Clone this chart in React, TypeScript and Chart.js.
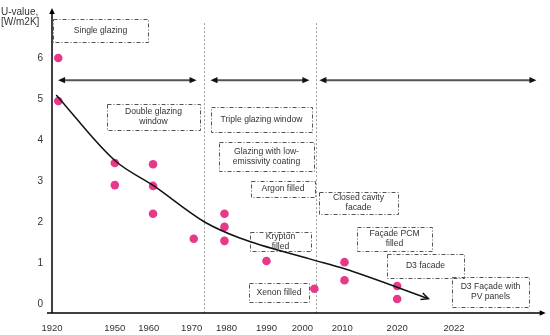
import { useEffect, useRef } from 'react';
import { Chart, registerables } from 'chart.js';
Chart.register(...registerables);

// x-axis (non-uniform timeline)
const tickYears = [1920, 1950, 1960, 1970, 1980, 1990, 2000, 2010, 2020, 2022];
const tickLabels = tickYears.map(String);
const tickPos = [0, 1.615, 2.487, 3.59, 4.487, 5.513, 6.436, 7.462, 8.872, 10.333];
const xAxisEnd = 12.69;
const yTicks = [0, 1, 2, 3, 4, 5, 6];

// measured U-values
const pointYears = [1923, 1923, 1950, 1950, 1961, 1961, 1961, 1970.6, 1979.4, 1979.4, 1979.4, 1990, 2003, 2010.4, 2010.4, 2020, 2020];
const pointValues = [6.0, 4.95, 3.44, 2.9, 3.41, 2.88, 2.2, 1.59, 2.2, 1.88, 1.54, 1.05, 0.37, 1.02, 0.58, 0.44, 0.12];

// trend curve
const trendYears = [1922, 1950, 1961.2, 1973.7, 1983.3, 2001.8, 2010.4, 2021.1];
const trendValues = [5.1, 3.5, 2.88, 2.0, 1.61, 1.1, 0.86, 0.13];

// eras
const eraBreakYears = [1973.4, 2003.3];
const eraArrowStart = [1922.9, 1975.4, 2004.25];
const eraArrowEnd = [1971.4, 2001.75, 2024.9];
const eraArrowLevel = 5.46;
const eraLineTop = 6.85;

const yTitle = ['U-value,', '[W/m2K]'];

const boxes = [
  { lines: ['Single glazing'], x1: 53, y1: 19, x2: 148, y2: 42 },
  { lines: ['Double glazing', 'window'], x1: 107, y1: 104, x2: 200, y2: 130 },
  { lines: ['Triple glazing window'], x1: 211, y1: 107, x2: 312, y2: 132 },
  { lines: ['Glazing with low-', 'emissivity coating'], x1: 219, y1: 142, x2: 314, y2: 171 },
  { lines: ['Argon filled'], x1: 251, y1: 181, x2: 315, y2: 197 },
  { lines: ['Closed cavity', 'facade'], x1: 319, y1: 192, x2: 398, y2: 214 },
  { lines: ['Krypton', 'filled'], x1: 250, y1: 232, x2: 311, y2: 251 },
  { lines: ['Façade PCM', 'filled'], x1: 357, y1: 227, x2: 432, y2: 251 },
  { lines: ['D3 facade'], x1: 387, y1: 254, x2: 464, y2: 278 },
  { lines: ['D3 Façade with', 'PV panels'], x1: 452, y1: 277, x2: 529, y2: 307 },
  { lines: ['Xenon filled'], x1: 249, y1: 283, x2: 309, y2: 302 },
];

function yearToPos(year: number): number {
  const n = tickYears.length;
  for (let i = 0; i < n - 1; i++) {
    if (year <= tickYears[i + 1] || i === n - 2) {
      const t = (year - tickYears[i]) / (tickYears[i + 1] - tickYears[i]);
      return tickPos[i] + t * (tickPos[i + 1] - tickPos[i]);
    }
  }
  return 0;
}

const FONT = '"Liberation Sans", Arial, sans-serif';

function filledHead(ctx: CanvasRenderingContext2D, x: number, y: number, ang: number, len: number, half: number) {
  ctx.beginPath();
  ctx.moveTo(x, y);
  ctx.lineTo(x - len * Math.cos(ang) + half * Math.sin(ang), y - len * Math.sin(ang) - half * Math.cos(ang));
  ctx.lineTo(x - len * Math.cos(ang) - half * Math.sin(ang), y - len * Math.sin(ang) + half * Math.cos(ang));
  ctx.closePath();
  ctx.fill();
}

const decorPlugin = {
  id: 'decor',
  beforeDatasetsDraw(chart: any) {
    const ctx = chart.ctx as CanvasRenderingContext2D;
    const { x, y } = chart.scales;
    const area = chart.chartArea;
    ctx.save();
    // era break lines
    ctx.strokeStyle = '#9a9a9a';
    ctx.lineWidth = 1;
    ctx.setLineDash([2, 2]);
    eraBreakYears.forEach((yr) => {
      const px = Math.round(x.getPixelForValue(yearToPos(yr))) + 0.5;
      ctx.beginPath();
      ctx.moveTo(px, y.getPixelForValue(eraLineTop));
      ctx.lineTo(px, area.bottom);
      ctx.stroke();
    });
    ctx.setLineDash([]);
    // era arrows
    const ay = y.getPixelForValue(eraArrowLevel);
    eraArrowStart.forEach((s, i) => {
      const x1 = x.getPixelForValue(yearToPos(s));
      const x2 = x.getPixelForValue(yearToPos(eraArrowEnd[i]));
      ctx.strokeStyle = '#555';
      ctx.lineWidth = 2;
      ctx.beginPath();
      ctx.moveTo(x1 + 4, ay);
      ctx.lineTo(x2 - 4, ay);
      ctx.stroke();
      ctx.fillStyle = '#111';
      filledHead(ctx, x2, ay, 0, 7, 3.2);
      filledHead(ctx, x1, ay, Math.PI, 7, 3.2);
    });
    // boxes
    ctx.strokeStyle = '#555';
    ctx.lineWidth = 1;
    ctx.setLineDash([4, 2, 1, 2]);
    ctx.fillStyle = '#333';
    ctx.font = `8.6px ${FONT}`;
    ctx.textAlign = 'center';
    ctx.textBaseline = 'middle';
    boxes.forEach((b) => {
      ctx.strokeRect(b.x1 + 0.5, b.y1 + 0.5, b.x2 - b.x1, b.y2 - b.y1);
      const cx = (b.x1 + b.x2) / 2;
      const cy = (b.y1 + b.y2) / 2;
      const lh = 10;
      b.lines.forEach((t, i) => {
        ctx.fillText(t, cx, cy + (i - (b.lines.length - 1) / 2) * lh);
      });
    });
    ctx.restore();
  },
  afterDraw(chart: any) {
    const ctx = chart.ctx as CanvasRenderingContext2D;
    const area = chart.chartArea;
    const { x, y } = chart.scales;
    ctx.save();
    // axes
    ctx.strokeStyle = '#000';
    ctx.fillStyle = '#000';
    ctx.lineWidth = 1.5;
    ctx.beginPath();
    ctx.moveTo(area.left, area.bottom);
    ctx.lineTo(area.left, area.top + 5);
    ctx.stroke();
    filledHead(ctx, area.left, area.top, -Math.PI / 2, 6, 2.8);
    ctx.beginPath();
    ctx.moveTo(area.left - 5, area.bottom);
    ctx.lineTo(area.right - 5, area.bottom);
    ctx.stroke();
    filledHead(ctx, area.right, area.bottom, 0, 6, 2.8);
    // trend arrow head
    const n = trendYears.length;
    const xa = x.getPixelForValue(yearToPos(trendYears[n - 1]));
    const ya = y.getPixelForValue(trendValues[n - 1]);
    const xb = x.getPixelForValue(yearToPos(trendYears[n - 2]));
    const yb = y.getPixelForValue(trendValues[n - 2]);
    const ang = Math.atan2(ya - yb, xa - xb);
    ctx.strokeStyle = '#111';
    ctx.lineWidth = 1.5;
    ctx.beginPath();
    ctx.moveTo(xa - 8 * Math.cos(ang - 0.45), ya - 8 * Math.sin(ang - 0.45));
    ctx.lineTo(xa, ya);
    ctx.lineTo(xa - 8 * Math.cos(ang + 0.45), ya - 8 * Math.sin(ang + 0.45));
    ctx.stroke();
    // y title
    ctx.fillStyle = '#333';
    ctx.font = `10px ${FONT}`;
    ctx.textAlign = 'left';
    ctx.textBaseline = 'middle';
    yTitle.forEach((t, i) => ctx.fillText(t, 1, 12 + i * 10));
    ctx.restore();
  },
};

export default function App() {
  const ref = useRef<HTMLCanvasElement>(null);
  useEffect(() => {
    document.body.style.margin = '0';
    const canvas = ref.current!;
    const chart = new Chart(canvas, {
      type: 'scatter',
      data: {
        datasets: [
          {
            label: 'trend',
            data: trendYears.map((yr, i) => ({ x: yearToPos(yr), y: trendValues[i] })),
            showLine: true,
            borderColor: '#111',
            borderWidth: 1.5,
            pointRadius: 0,
            cubicInterpolationMode: 'monotone',
          } as any,
          {
            label: 'U-value',
            data: pointYears.map((yr, i) => ({ x: yearToPos(yr), y: pointValues[i] })),
            backgroundColor: '#e6398a',
            borderWidth: 0,
            pointRadius: 4.3,
          },
        ],
      },
      options: {
        animation: false,
        responsive: false,
        devicePixelRatio: 1,
        layout: { padding: { left: 0, right: 3, top: 8, bottom: 0 } },
        plugins: { legend: { display: false }, tooltip: { enabled: false } },
        scales: {
          x: {
            type: 'linear',
            min: 0,
            max: xAxisEnd,
            grid: { display: false, drawTicks: false },
            border: { display: false },
            afterBuildTicks: (s: any) => {
              s.ticks = tickPos.map((v) => ({ value: v }));
            },
            afterFit: (s: any) => {
              s.height = 22;
              s.paddingLeft = 0;
              s.paddingRight = 0;
            },
            ticks: {
              padding: 10,
              color: '#333',
              font: { size: 9.5, family: FONT },
              maxRotation: 0,
              autoSkip: false,
              callback: (_v: any, i: number) => tickLabels[i],
            },
          },
          y: {
            type: 'linear',
            min: -0.22,
            max: 7.22,
            grid: { display: false, drawTicks: false },
            border: { display: false },
            afterBuildTicks: (s: any) => {
              s.ticks = yTicks.map((v) => ({ value: v }));
            },
            afterFit: (s: any) => {
              s.width = 52;
              s.paddingTop = 0;
              s.paddingBottom = 0;
            },
            ticks: {
              padding: 9,
              color: '#333',
              font: { size: 10, family: FONT },
              callback: (v: any) => String(v),
            },
          },
        },
      },
      plugins: [decorPlugin],
    });
    return () => chart.destroy();
  }, []);
  return <canvas ref={ref} width={550} height={335} />;
}
